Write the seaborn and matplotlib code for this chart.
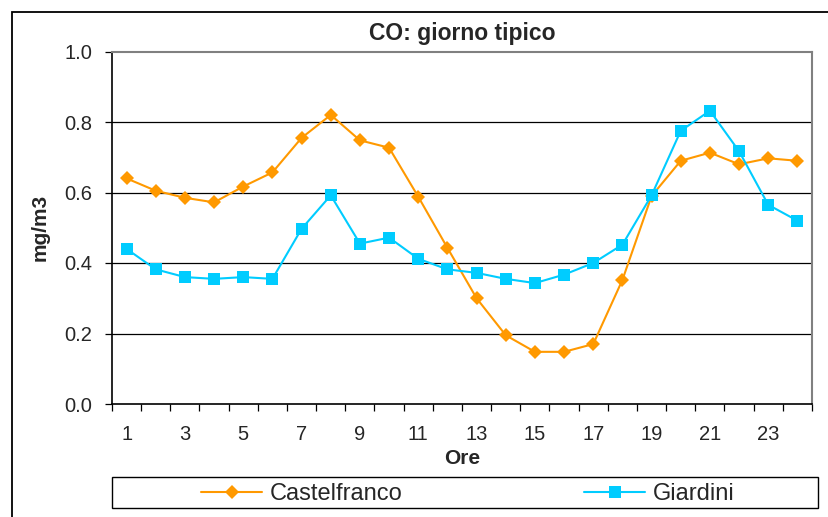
import numpy as np
import pandas as pd
import matplotlib
matplotlib.use("Agg")
import matplotlib.pyplot as plt
from matplotlib.patches import Rectangle
from matplotlib.ticker import FixedLocator, NullFormatter
import seaborn as sns

# dati (media oraria CO, mg/m3)
ore = list(range(1, 25))
castelfranco = [0.640, 0.605, 0.585, 0.572, 0.617, 0.657, 0.755, 0.820,
                0.748, 0.727, 0.588, 0.443, 0.300, 0.195, 0.148, 0.148,
                0.170, 0.352, 0.590, 0.690, 0.713, 0.680, 0.697, 0.690]
giardini = [0.440, 0.382, 0.360, 0.355, 0.360, 0.355, 0.497, 0.592,
            0.455, 0.472, 0.412, 0.382, 0.372, 0.355, 0.343, 0.367,
            0.400, 0.452, 0.592, 0.775, 0.832, 0.717, 0.565, 0.520]
etichette_x = [str(h) for h in range(1, 24, 2)]

sns.set_style("white")
plt.rcParams['font.family'] = ['Liberation Sans', 'DejaVu Sans']

W, H = 829, 517
fig = plt.figure(figsize=(W / 100, H / 100), dpi=100)
ax = fig.add_axes([112 / W, 1 - 404 / H, 700 / W, 352.5 / H])

sns.lineplot(x=ore, y=castelfranco, ax=ax, color='#FF9900', marker='D',
             markersize=7.5, markeredgewidth=0, linewidth=1.5,
             label='Castelfranco')
sns.lineplot(x=ore, y=giardini, ax=ax, color='#00CCFF', marker='s',
             markersize=8, markeredgewidth=0, linewidth=1.5,
             label='Giardini')

# assi
ax.set_xlim(0.5, 24.5)
ax.set_ylim(0, 1.0)
ax.set_yticks(np.arange(0, 1.01, 0.2))
ax.set_yticklabels([f'{v:.1f}' for v in np.arange(0, 1.01, 0.2)])
for v in [0.2, 0.4, 0.6, 0.8]:
    ax.axhline(v, color='black', linewidth=0.9, zorder=0)

ax.xaxis.set_major_locator(FixedLocator(np.arange(0.5, 25, 1)))
ax.xaxis.set_major_formatter(NullFormatter())
ax.xaxis.set_minor_locator(FixedLocator(list(range(1, 24, 2))))
ax.set_xticklabels(etichette_x, minor=True)
ax.tick_params(axis='x', which='major', direction='out', length=5,
               width=0.9, color='black', bottom=True)
ax.tick_params(axis='x', which='minor', length=0, pad=15, labelsize=14.5,
               bottom=True)
ax.tick_params(axis='y', direction='out', length=5, width=0.9,
               color='black', left=True, pad=9, labelsize=14.5)

for s in ['left', 'bottom']:
    ax.spines[s].set_color('black')
    ax.spines[s].set_linewidth(1.2)
for s in ['top', 'right']:
    ax.spines[s].set_color('#808080')
    ax.spines[s].set_linewidth(1.5)

ax.set_title('CO: giorno tipico', fontsize=16.5, fontweight='bold', pad=8)
ax.set_xlabel('Ore', fontsize=15, fontweight='bold', labelpad=4)
ax.set_ylabel('mg/m3', fontsize=15, fontweight='bold', labelpad=11)

# legenda in basso
handles, labels = ax.get_legend_handles_labels()
ax.get_legend().remove()
fig.legend(handles, labels, loc='center', ncol=2, frameon=False,
           bbox_to_anchor=(468 / W, 1 - 494 / H), fontsize=17,
           handlelength=2.58, handletextpad=0.33, columnspacing=7.7,
           markerscale=1.0)
fig.patches.append(Rectangle((112 / W, 1 - 508 / H), 706 / W, 31 / H,
                             transform=fig.transFigure, fill=False,
                             edgecolor='black', linewidth=1))
# cornice esterna
fig.patches.append(Rectangle((12 / W, -0.1), 1.1, 1.1 - 12 / H,
                             transform=fig.transFigure, fill=False,
                             edgecolor='black', linewidth=1.3))

fig.savefig('out.png', dpi=100)
